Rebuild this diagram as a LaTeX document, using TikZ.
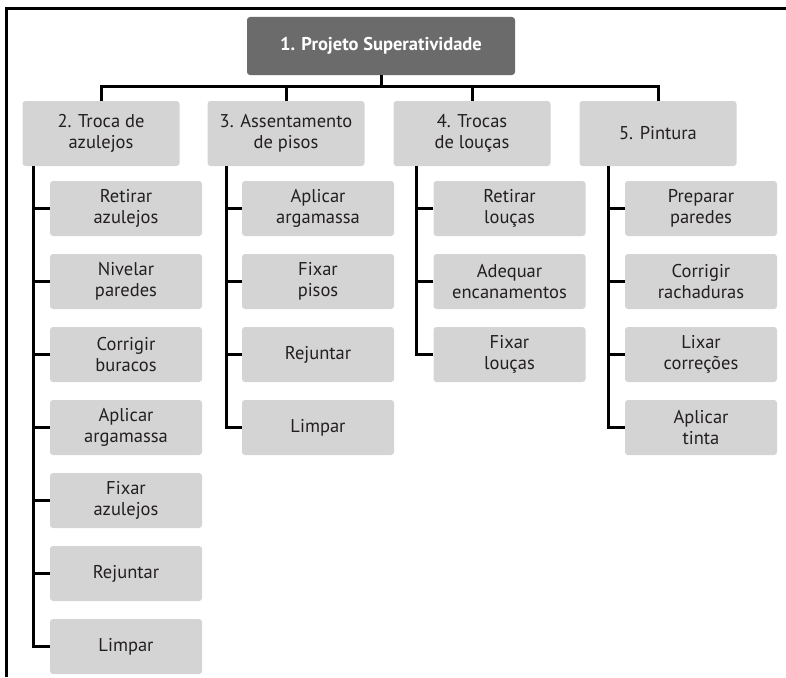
\documentclass[tikz,border=0pt]{standalone}
\usepackage{fontspec}
\setmainfont{PT Sans}
\definecolor{boxgray}{HTML}{D4D4D4}
\definecolor{rootgray}{HTML}{6B6B6B}
\definecolor{txt}{HTML}{231F20}
\begin{document}
\begin{tikzpicture}[x=1pt,y=-1pt,
  rootbox/.style={fill=rootgray,rounded corners=3pt,minimum width=268pt,minimum height=58pt,inner sep=0pt,text=white,font=\fontsize{18.5}{21}\selectfont\bfseries,align=center},
  lvlbox/.style={fill=boxgray,rounded corners=3pt,minimum width=157pt,minimum height=65pt,inner sep=0pt,text=txt,font=\fontsize{18.5}{21}\selectfont,align=center},
  taskbox/.style={fill=boxgray,rounded corners=3pt,minimum width=152pt,minimum height=55pt,inner sep=0pt,text=txt,font=\fontsize{18.5}{21}\selectfont,align=center},
  conn/.style={line width=3pt,black,line join=miter},
  framel/.style={line width=3pt,black}]
\useasboundingbox (0,0) rectangle (786,677);
\draw[framel] (6,677) -- (6,9) -- (786,9);

\node[rootbox] (root) at (381,46) {1. Projeto Superatividade};

\node[lvlbox] (l2) at (101,133.5) {2. Troca de\\azulejos};
\node[lvlbox] (l3) at (286,133.5) {3. Assentamento\\de pisos};
\node[lvlbox] (l4) at (472,133.5) {4. Trocas\\de louças};
\node[lvlbox] (l5) at (658,133.5) {5. Pintura};

\coordinate (bus) at (0,86);
\draw[conn] (root.south) -- (root.south |- bus);
\draw[conn] (l2.north) -- (l2.north |- bus) -- (l5.north |- bus) -- (l5.north);
\draw[conn] (l3.north) -- (l3.north |- bus);
\draw[conn] (l4.north) -- (l4.north |- bus);

% column 2
\node[taskbox] (a1) at (126,208.5) {Retirar\\azulejos};
\node[taskbox] (a2) at (126,281.5) {Nivelar\\paredes};
\node[taskbox] (a3) at (126,354.5) {Corrigir\\buracos};
\node[taskbox] (a4) at (126,427.5) {Aplicar\\argamassa};
\node[taskbox] (a5) at (126,500.5) {Fixar\\azulejos};
\node[taskbox] (a6) at (126,573.5) {Rejuntar};
\node[taskbox] (a7) at (126,646.5) {Limpar};
% column 3
\node[taskbox] (b1) at (318,208.5) {Aplicar\\argamassa};
\node[taskbox] (b2) at (318,281.5) {Fixar\\pisos};
\node[taskbox] (b3) at (318,354.5) {Rejuntar};
\node[taskbox] (b4) at (318,427.5) {Limpar};
% column 4
\node[taskbox] (c1) at (509.5,208.5) {Retirar\\louças};
\node[taskbox] (c2) at (509.5,281.5) {Adequar\\encanamentos};
\node[taskbox] (c3) at (509.5,354.5) {Fixar\\louças};
% column 5
\node[taskbox] (d1) at (701,208.5) {Preparar\\paredes};
\node[taskbox] (d2) at (701,281.5) {Corrigir\\rachaduras};
\node[taskbox] (d3) at (701,354.5) {Lixar\\correções};
\node[taskbox] (d4) at (701,427.5) {Aplicar\\tinta};

\coordinate (t2) at ([xshift=11pt]l2.south west);
\coordinate (t3) at ([xshift=19pt]l3.south west);
\coordinate (t4) at ([xshift=23pt]l4.south west);
\coordinate (t5) at ([xshift=29pt]l5.south west);

\draw[conn] (t2) |- (a7.west);
\foreach \n in {a1,a2,a3,a4,a5,a6} \draw[conn] (\n.west) -- (\n.west -| t2);
\draw[conn] (t3) |- (b4.west);
\foreach \n in {b1,b2,b3} \draw[conn] (\n.west) -- (\n.west -| t3);
\draw[conn] (t4) |- (c3.west);
\foreach \n in {c1,c2} \draw[conn] (\n.west) -- (\n.west -| t4);
\draw[conn] (t5) |- (d4.west);
\foreach \n in {d1,d2,d3} \draw[conn] (\n.west) -- (\n.west -| t5);
\end{tikzpicture}
\end{document}
